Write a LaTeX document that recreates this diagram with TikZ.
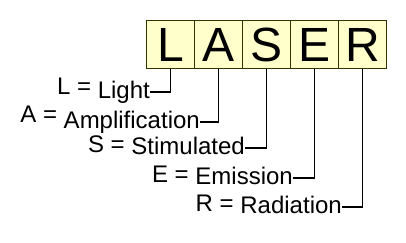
\documentclass[tikz,border=0pt]{standalone}
\usepackage{fontspec}
\setmainfont{Liberation Sans}
\usetikzlibrary{positioning}

\definecolor{boxfill}{HTML}{FFFFCC}
\definecolor{boxline}{HTML}{333300}

\begin{document}
\begin{tikzpicture}[
    x=1pt, y=-1pt,
    letter/.style={draw=boxline, fill=boxfill, line width=1pt, outer sep=0pt, inner sep=0pt,
        minimum width=48pt, minimum height=48pt, font=\fontsize{48}{48}\selectfont},
    word/.style={inner sep=0pt, anchor=east, text height=17pt, text depth=5pt,
        font=\fontsize{24}{24}\selectfont},
    link/.style={line width=1.6pt}
]
\useasboundingbox (0,0) rectangle (406,242);

% Letter boxes
\node[letter] (bl) at (170.5,44.5) {L};
\node[letter, right=0pt of bl] (ba) {A};
\node[letter, right=0pt of ba] (bs) {S};
\node[letter, right=0pt of bs] (be) {E};
\node[letter, right=0pt of be] (br) {R};

% Words
\node[word] (light) at (150,92) {\raisebox{4pt}{L =} Light};
\node[word] (ampl) at (200,122) {\raisebox{6pt}{A =} Amplification};
\node[word] (stim) at (245,148) {\raisebox{2pt}{S =} Stimulated};
\node[word] (emis) at (293,178) {\raisebox{2pt}{E =} Emission};
\node[word] (radi) at (342,207) {\raisebox{2pt}{R =} Radiation};

% Connectors
\draw[link] (bl.south) |- (light.east);
\draw[link] (ba.south) |- (ampl.east);
\draw[link] (bs.south) |- (stim.east);
\draw[link] (be.south) |- (emis.east);
\draw[link] (br.south) |- (radi.east);

\end{tikzpicture}
\end{document}
